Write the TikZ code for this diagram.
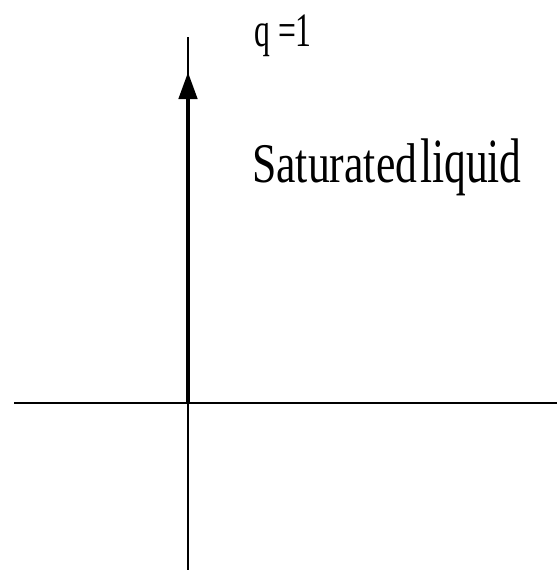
\documentclass[tikz,border=0pt]{standalone}
\usepackage{fontspec}
\setmainfont{Liberation Serif}
\usepackage{graphicx}
\usetikzlibrary{arrows.meta,positioning}

\tikzset{
  axis/.style={line width=1.6pt,black},
  flow/.style={line width=4.5pt,-{Triangle[width=18pt,length=27pt]}}
}

\begin{document}
\begin{tikzpicture}[x=1pt,y=-1pt]
    \useasboundingbox (0,0) rectangle (557,573);
    \coordinate (o) at (188,403);
    \coordinate (top) at (188,37);
    \coordinate (bot) at (188,570);
    \coordinate (left) at (14,403);
    \coordinate (right) at (557,403);
    \coordinate (tip) at (188,72);
    \draw[axis] (top) -- (bot);
    \draw[axis] (left) -- (right);
    \draw[flow] (o) -- (tip);
    \node (q) at (283,36) {\scalebox{0.66}[1]{\fontsize{48}{50}\selectfont q =1}};
    \node (sat) at (387,167) {\scalebox{0.78}[1]{\fontsize{56}{58}\selectfont Saturated}\hspace{3pt}\scalebox{0.69}[1]{\fontsize{63}{65}\selectfont liquid}};
  \end{tikzpicture}
\end{document}
